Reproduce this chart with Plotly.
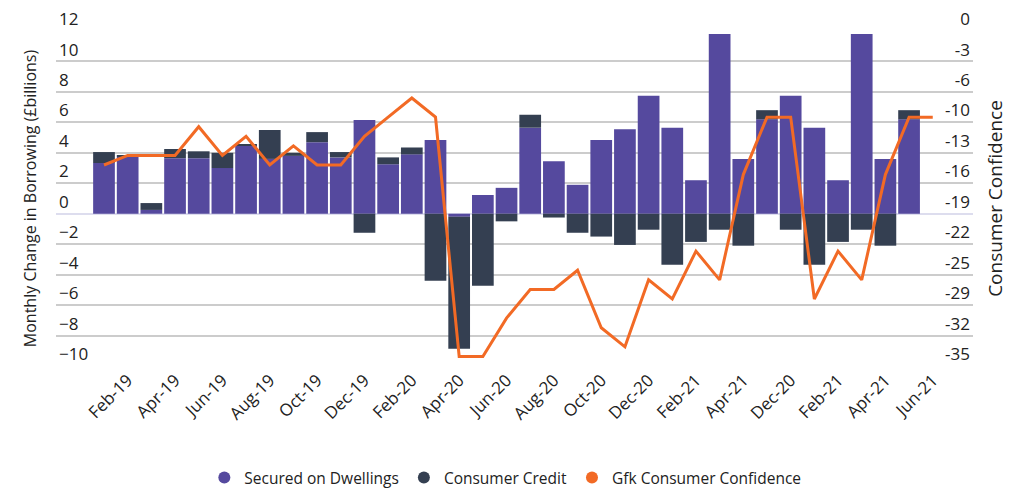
import plotly.graph_objects as go

categories = ["Jan-19", "Feb-19", "Mar-19", "Apr-19", "May-19", "Jun-19", "Jul-19", "Aug-19",
              "Sep-19", "Oct-19", "Nov-19", "Dec-19", "Jan-20", "Feb-20", "Mar-20", "Apr-20",
              "May-20", "Jun-20", "Jul-20", "Aug-20", "Sep-20", "Oct-20", "Nov-20", "Dec-20",
              "Jan-21", "Feb-21", "Mar-21", "Apr-21", "May-21", "Dec-20", "Jan-21", "Feb-21",
              "Mar-21", "Apr-21", "May-21", "Jun-21"]

secured = [3.33, 3.75, 0.25, 3.65, 3.65, 3.0, 4.45, 3.6, 3.8, 4.7, 3.7, 6.15,
           3.25, 3.9, 4.85, -0.2, 1.23, 1.7, 5.65, 3.45, 1.9, 4.85, 5.55, 7.75,
           5.65, 2.2, 11.8, 3.6, 6.2, 7.75, 5.65, 2.2, 11.8, 3.6, 6.2, None]

credit = [0.72, 0.05, 0.45, 0.6, 0.45, 1.0, 0.13, 1.9, 0.2, 0.66, 0.35, -1.25,
          0.45, 0.45, -4.4, -8.66, -4.73, -0.5, 0.85, -0.25, -1.25, -1.5, -2.05, -1.05,
          -3.35, -1.85, -1.05, -2.1, 0.6, -1.05, -3.35, -1.85, -1.05, -2.1, 0.6, None]

gfk = [-14, -13, -13, -13, -10, -13, -11, -14, -12, -14, -14, -11,
       -9, -7, -9, -34, -34, -30, -27, -27, -25, -31, -33, -26,
       -28, -23, -26, -15, -9, -9, -28, -23, -26, -15, -9, -9]

right_tick_text = ["0", "-3", "-6", "-10", "-13", "-16", "-19", "-22", "-25", "-29", "-32", "-35"]

PURPLE = "#55499E"
DARK = "#343F51"
ORANGE = "#F26A25"
GRID = "#CCCCCC"
TXT = "#222222"
FONT = "Open Sans"

x = list(range(len(categories)))
n_right = len(right_tick_text)
right_tick_vals = [-35 * k / (n_right - 1) for k in range(n_right)]
x_tick_vals = x[1::2]
x_tick_text = categories[1::2]

fig = go.Figure()
fig.add_trace(go.Bar(x=x, y=secured, name="Secured on Dwellings", marker_color=PURPLE,
                     marker_line_width=0, showlegend=False))
fig.add_trace(go.Bar(x=x, y=credit, name="Consumer Credit", marker_color=DARK,
                     marker_line_width=0, showlegend=False))
fig.add_trace(go.Scatter(x=x, y=gfk, name="Gfk Consumer Confidence", mode="lines",
                         line=dict(color=ORANGE, width=3), yaxis="y2", showlegend=False))

for nm, col in [("Secured on Dwellings", PURPLE), ("Consumer Credit", DARK),
                ("Gfk Consumer Confidence", ORANGE)]:
    fig.add_trace(go.Scatter(x=[None], y=[None], mode="markers", name=nm,
                             marker=dict(color=col, size=17, symbol="circle")))

fig.update_layout(
    width=1021, height=485,
    margin=dict(l=48, r=56, t=23, b=127, autoexpand=False),
    paper_bgcolor="white", plot_bgcolor="white",
    font=dict(family=FONT, color=TXT, size=17),
    barmode="relative", bargap=0.083,
    xaxis=dict(range=[-2.027, 36.70], tickvals=x_tick_vals, ticktext=x_tick_text,
               tickangle=-45, showgrid=False, zeroline=False, showline=False,
               ticks="", tickfont=dict(size=17, color=TXT), automargin=False),
    yaxis=dict(range=[-10, 12], dtick=2, tick0=0, showgrid=True, gridcolor=GRID, gridwidth=2,
               zeroline=True, zerolinecolor="#DDDDEE", zerolinewidth=2,
               ticklabelposition="inside top", ticklabeloverflow="allow",
               tickfont=dict(size=17, color=TXT), ticks="", automargin=False,
               title=dict(text="Monthly Change in Borrowing (£billions)",
                          font=dict(size=16, color=TXT), standoff=18)),
    yaxis2=dict(range=[-35, 0], overlaying="y", side="right",
                tickvals=right_tick_vals, ticktext=right_tick_text,
                showgrid=False, zeroline=False, automargin=False,
                ticklabelposition="inside top", ticklabeloverflow="allow",
                tickfont=dict(size=17, color=TXT), ticks="",
                title=dict(text="Consumer Confidence", font=dict(size=19, color=TXT), standoff=19)),
    legend=dict(orientation="h", x=0.49, xanchor="center", xref="paper",
                y=0.031, yanchor="middle", yref="container",
                font=dict(size=15.5, color=TXT), itemsizing="constant"),
)

fig.write_html("out.html")
